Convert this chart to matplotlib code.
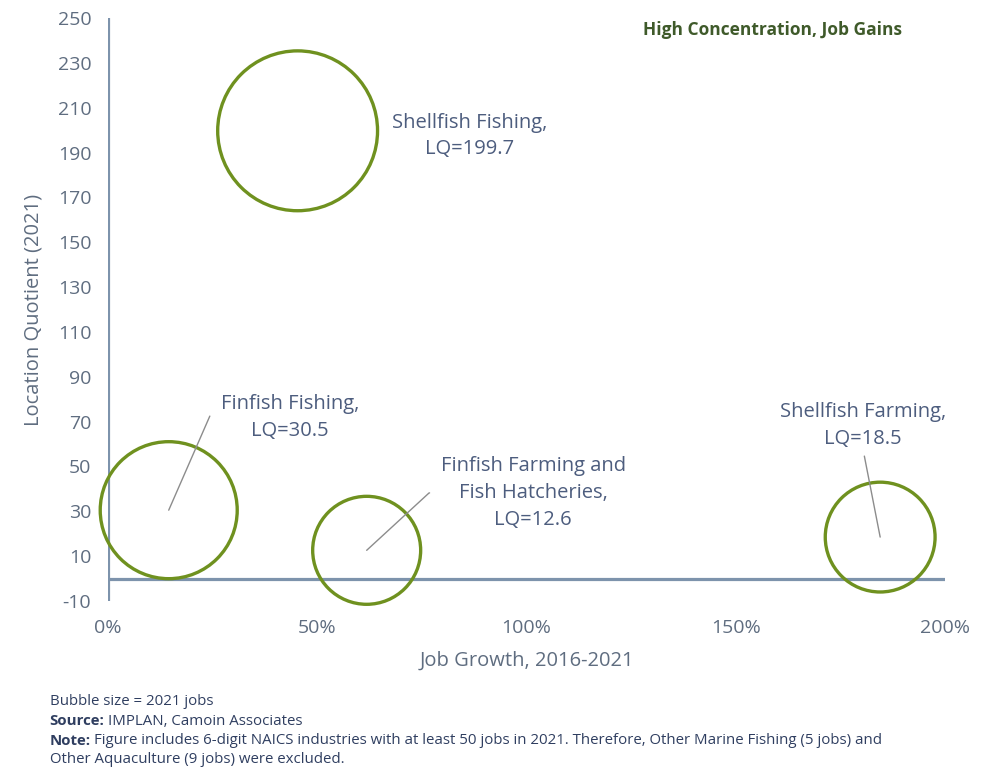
import matplotlib
matplotlib.use('Agg')
import matplotlib.pyplot as plt
from matplotlib.ticker import FuncFormatter

plt.rcParams['font.family'] = ['Open Sans', 'DejaVu Sans']
plt.rcParams['axes.unicode_minus'] = False

# Industries: job growth 2016-2021 (%), location quotient 2021, jobs 2021
industries = ['Shellfish Fishing', 'Finfish Fishing',
              'Finfish Farming and\nFish Hatcheries', 'Shellfish Farming']
job_growth = [45.3, 14.5, 61.8, 184.5]
lq_2021 = [199.7, 30.5, 12.6, 18.5]
jobs_2021 = [640, 470, 292, 302]

x_ticks = [0, 50, 100, 150, 200]
y_ticks = [-10, 10, 30, 50, 70, 90, 110, 130, 150, 170, 190, 210, 230, 250]

AXIS_BLUE = '#7d93ac'
TEXT_BLUE = '#4d5d7e'
TICK_GRAY = '#5f6d80'
BUBBLE_GREEN = '#6f911f'
NOTE_BLUE = '#2f3e60'

fig = plt.figure(figsize=(9.93, 7.7), dpi=100)
ax = fig.add_axes([0.1088, 0.2195, 0.8429, 0.7571])

ax.scatter(job_growth, lq_2021, s=[j * 20.7 for j in jobs_2021],
           facecolors='none', edgecolors=BUBBLE_GREEN, linewidths=2.4,
           zorder=3, clip_on=False)

ax.set_xlim(0, 200)
ax.set_ylim(-10, 250)
ax.axhline(0, color=AXIS_BLUE, lw=2.3, zorder=2)
ax.axvline(0, color=AXIS_BLUE, lw=2.3, zorder=2)
for s in ax.spines.values():
    s.set_visible(False)

ax.set_xticks(x_ticks)
ax.set_yticks(y_ticks)
ax.xaxis.set_major_formatter(FuncFormatter(lambda v, p: f'{v:.0f}%'))
ax.tick_params(length=0, labelsize=14, labelcolor=TICK_GRAY)
ax.tick_params(axis='y', pad=12)
ax.tick_params(axis='x', pad=13)

ax.set_xlabel('Job Growth, 2016-2021', fontsize=14.5, color=TICK_GRAY, labelpad=10)
ax.set_ylabel('Location Quotient (2021)', fontsize=14.5, color=TICK_GRAY, labelpad=10)

# label centre (x, y), where the leader leaves the text box, and the
# angle of the leader's diagonal at the bubble (None = straight line)
label_pos = [(86.5, 197.4), (43.5, 71.7), (101.6, 38.2), (180.4, 68.1)]
leader_rel = [None, (0.0, 0.55), (0.0, 0.5), (0.5, 0.0)]
leader_angle = [None, 66.4, 42.6, None]

for name, gx, lq, (tx, ty), rel, ang in zip(industries, job_growth, lq_2021,
                                            label_pos, leader_rel, leader_angle):
    txt = f'{name},\nLQ={lq}'
    if rel is None:
        ax.text(tx, ty, txt, ha='center', va='center', fontsize=14.5,
                color=TEXT_BLUE, linespacing=1.45, zorder=4)
        continue
    if ang is None:
        conn = 'arc3'
        shrink = 3
    else:
        conn = f'angle,angleA=0,angleB={ang},rad=0'
        shrink = 6
    ax.annotate(txt, xy=(gx, lq), xytext=(tx, ty), ha='center', va='center',
                fontsize=14.5, color=TEXT_BLUE, linespacing=1.45, zorder=4,
                arrowprops=dict(arrowstyle='-', color='#8c8c8c', lw=1.0,
                                shrinkA=shrink, shrinkB=0, relpos=rel,
                                connectionstyle=conn))

fig.text(0.778, 0.961, 'High Concentration, Job Gains', ha='center', va='center',
         fontsize=12.5, fontweight='bold', color='#3f5a2a')

# footnotes below the chart
FOOT = 10.8
fig.text(0.050, 0.0896, 'Bubble size = 2021 jobs', fontsize=FOOT, color=NOTE_BLUE,
         va='center')
src = fig.text(0.050, 0.0636, 'Source:', fontsize=FOOT, fontweight='bold',
               color=NOTE_BLUE, va='center')
ax.annotate('IMPLAN, Camoin Associates', xy=(1, 0.5), xycoords=src,
            xytext=(2.5, 0), textcoords='offset points', va='center',
            fontsize=FOOT, color=NOTE_BLUE, annotation_clip=False)
note = fig.text(0.050, 0.0377, 'Note:', fontsize=FOOT, fontweight='bold',
                color=NOTE_BLUE, va='center')
ax.annotate('Figure includes 6-digit NAICS industries with at least 50 jobs in 2021. '
            'Therefore, Other Marine Fishing (5 jobs) and',
            xy=(1, 0.5), xycoords=note, xytext=(2.5, 0), textcoords='offset points',
            va='center', fontsize=FOOT, color=NOTE_BLUE, annotation_clip=False)
fig.text(0.050, 0.0130, 'Other Aquaculture (9 jobs) were excluded.', fontsize=FOOT,
         color=NOTE_BLUE, va='center')

fig.savefig('out.png', dpi=100)
